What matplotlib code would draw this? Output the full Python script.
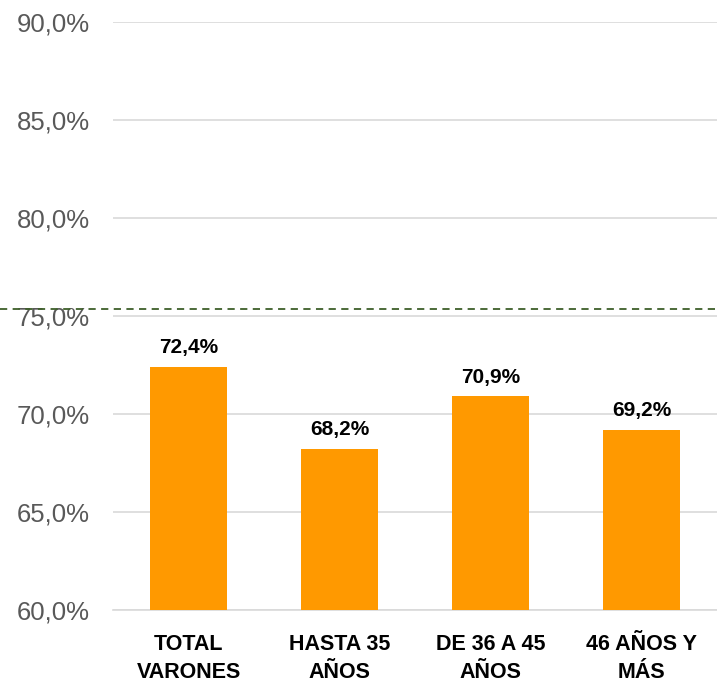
import matplotlib
matplotlib.use("Agg")
import matplotlib.pyplot as plt
from matplotlib.lines import Line2D
from matplotlib.ticker import FuncFormatter

categories = ["TOTAL\nVARONES", "HASTA 35\nAÑOS", "DE 36 A 45\nAÑOS", "46 AÑOS Y\nMÁS"]
values = [72.4, 68.2, 70.9, 69.2]
ref_line = 75.35

fig = plt.figure(figsize=(7.17, 6.88), dpi=100)
ax = fig.add_axes([113 / 717, 1 - 610 / 688, 1 - 113 / 717, (610 - 22) / 688])

x = range(len(categories))
ax.bar(x, values, width=0.51, color="#FF9900", zorder=3)
for xi, v in zip(x, values):
    ax.text(xi, v + 0.5, f"{v:.1f}%".replace(".", ","), ha="center", va="bottom",
            fontsize=15, fontweight="bold", family="Liberation Sans", color="black")

ax.set_ylim(60, 90)
ax.set_xlim(-0.5, 3.5)
ax.set_yticks([60, 65, 70, 75, 80, 85, 90])
ax.yaxis.set_major_formatter(FuncFormatter(lambda v, p: f"{v:.1f}%".replace(".", ",")))
ax.grid(axis="y", color="#D9D9D9", lw=1.2, zorder=0)
for s in ["top", "right", "left"]:
    ax.spines[s].set_visible(False)
ax.spines["bottom"].set_color("#D9D9D9")
ax.spines["bottom"].set_linewidth(1.2)
ax.tick_params(axis="y", length=0, pad=16.5, labelsize=18.5, labelcolor="#595959")
ax.tick_params(axis="x", length=0, pad=17)
ax.set_xticks(list(x))
ax.set_xticklabels(categories, fontsize=15.5, fontweight="bold", family="Liberation Sans",
                   linespacing=1.45)
for lab in ax.get_yticklabels():
    lab.set_family("Liberation Sans")

# dashed reference line across the whole figure
yfig = ax.transData.transform((0, ref_line))[1] / fig.bbox.height
fig.add_artist(Line2D([0, 1], [yfig, yfig], transform=fig.transFigure,
                      color="#3E5F2A", lw=1.3, ls=(0, (4, 3))))

fig.savefig("out.png", dpi=100)
